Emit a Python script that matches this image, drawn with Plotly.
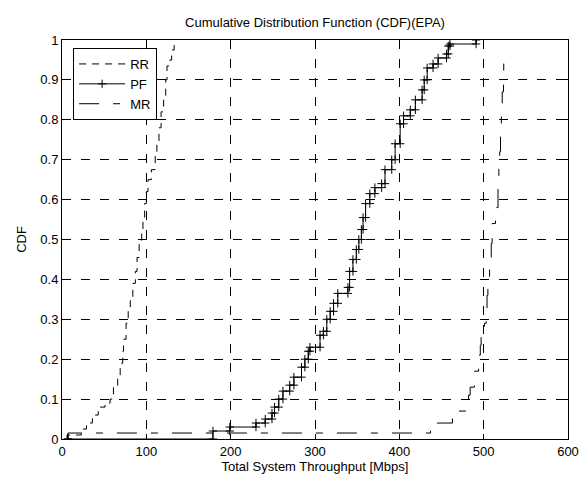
import plotly.graph_objects as go

# ---- data (x = throughput [Mbps], y = CDF level after the step) ----
rr_x = [6, 23, 29, 36, 43, 51, 57, 61, 66, 69, 72, 73, 76, 78.5, 81, 84, 87, 89, 91.5,
        94.5, 96, 98, 100, 102, 106, 110.5, 112.5, 115, 117.5, 120.5, 123, 124.5, 128, 130, 133]
rr_y = [0.01, 0.025, 0.04, 0.06, 0.08, 0.09, 0.10, 0.13, 0.155, 0.19, 0.22, 0.25, 0.29, 0.32,
        0.355, 0.39, 0.42, 0.455, 0.49, 0.52, 0.555, 0.59, 0.62, 0.65, 0.675, 0.71, 0.74, 0.78,
        0.82, 0.85, 0.90, 0.935, 0.95, 0.975, 1.0]

pf_x = [7, 179, 199, 230, 241, 249, 252, 257, 262, 270, 275, 284, 288, 292, 294, 306, 310,
        314, 318, 322, 327, 339, 341, 345, 349, 352, 355, 357, 360, 365, 371, 379, 383, 391,
        395, 401, 405, 413, 419, 427, 429.5, 433, 440, 446, 456, 458, 460, 491]
pf_y = [0.0, 0.02, 0.03, 0.04, 0.05, 0.065, 0.08, 0.10, 0.12, 0.135, 0.155, 0.18, 0.20, 0.22,
        0.23, 0.26, 0.27, 0.30, 0.32, 0.34, 0.365, 0.38, 0.42, 0.45, 0.475, 0.50, 0.525, 0.555,
        0.59, 0.615, 0.63, 0.64, 0.675, 0.70, 0.74, 0.79, 0.81, 0.825, 0.85, 0.875, 0.90, 0.93,
        0.94, 0.955, 0.965, 0.985, 0.99, 1.0]

mr_x = [7, 437, 445, 463, 467, 480, 482, 484, 489, 494, 496, 497, 501, 503, 504, 505, 507,
        509, 510, 514, 517, 518, 519, 520, 521, 522, 523.5, 524]
mr_y = [0.015, 0.025, 0.04, 0.06, 0.07, 0.09, 0.11, 0.13, 0.17, 0.21, 0.235, 0.26, 0.29, 0.31,
        0.36, 0.40, 0.44, 0.49, 0.54, 0.58, 0.63, 0.68, 0.72, 0.78, 0.83, 0.87, 0.93, 0.975]

x_ticks = [0, 100, 200, 300, 400, 500, 600]
y_ticks = [0, 0.1, 0.2, 0.3, 0.4, 0.5, 0.6, 0.7, 0.8, 0.9, 1]
y_tick_labels = ["0", "0.1", "0.2", "0.3", "0.4", "0.5", "0.6", "0.7", "0.8", "0.9", "1"]

title_text = "Cumulative Distribution Function (CDF)(EPA)"
x_label = "Total System Throughput [Mbps]"
y_label = "CDF"


def stairs(xs, ys):
    """Vertices of a stairs plot (like MATLAB stairs of an ecdf), starting from level 0."""
    vx, vy = [xs[0]], [0.0]
    prev = 0.0
    for i, (x, y) in enumerate(zip(xs, ys)):
        if i > 0:
            vx.append(x)
            vy.append(prev)
        vx.append(x)
        vy.append(y)
        prev = y
    return vx, vy


FONT = "Liberation Sans, Arial, Helvetica, sans-serif"

fig = go.Figure()

rx, ry = stairs(rr_x, rr_y)
fig.add_trace(go.Scatter(x=rx, y=ry, mode="lines", name="RR",
                         line=dict(color="black", width=1, dash="7px,6px")))

px_, py_ = stairs(pf_x, pf_y)
fig.add_trace(go.Scatter(x=px_, y=py_, mode="lines+markers", name="PF",
                         line=dict(color="black", width=1),
                         marker=dict(symbol="cross-thin", size=6, color="black",
                                     line=dict(color="black", width=1))))

mx, my = stairs(mr_x, mr_y)
fig.add_trace(go.Scatter(x=mx, y=my, mode="lines", name="MR",
                         line=dict(color="black", width=1, dash="20px,14px,7px,14px")))

axis_common = dict(
    showline=True, linecolor="black", linewidth=1, mirror="ticks",
    ticks="inside", ticklen=5, tickcolor="black", tickwidth=1,
    showgrid=True, gridcolor="black", gridwidth=1, griddash="9px,10px",
    zeroline=False, automargin=False,
    tickfont=dict(family=FONT, size=13, color="black"),
)

fig.update_xaxes(range=[0, 600], tickmode="array", tickvals=x_ticks,
                 title=dict(text=x_label, font=dict(family=FONT, size=13, color="black"), standoff=4),
                 **axis_common)
fig.update_yaxes(range=[0, 1], tickmode="array", tickvals=y_ticks, ticktext=y_tick_labels,
                 title=dict(text=y_label, font=dict(family=FONT, size=13, color="black"), standoff=10),
                 **axis_common)

fig.update_layout(
    width=584, height=477,
    margin=dict(l=62, r=16, t=40, b=38, pad=0),
    paper_bgcolor="white", plot_bgcolor="white",
    font=dict(family=FONT, size=13, color="black"),
    title=dict(text=title_text, x=0.5, xref="paper", xanchor="center",
               y=1 - 22 / 477, yref="container", yanchor="middle",
               font=dict(family=FONT, size=13, color="black")),
    legend=dict(x=0.022, y=0.98, xanchor="left", yanchor="top",
                bgcolor="white", bordercolor="black", borderwidth=1,
                font=dict(family=FONT, size=13, color="black"),
                itemwidth=46, tracegroupgap=0),
    showlegend=True,
)

fig.write_html("out.html")
